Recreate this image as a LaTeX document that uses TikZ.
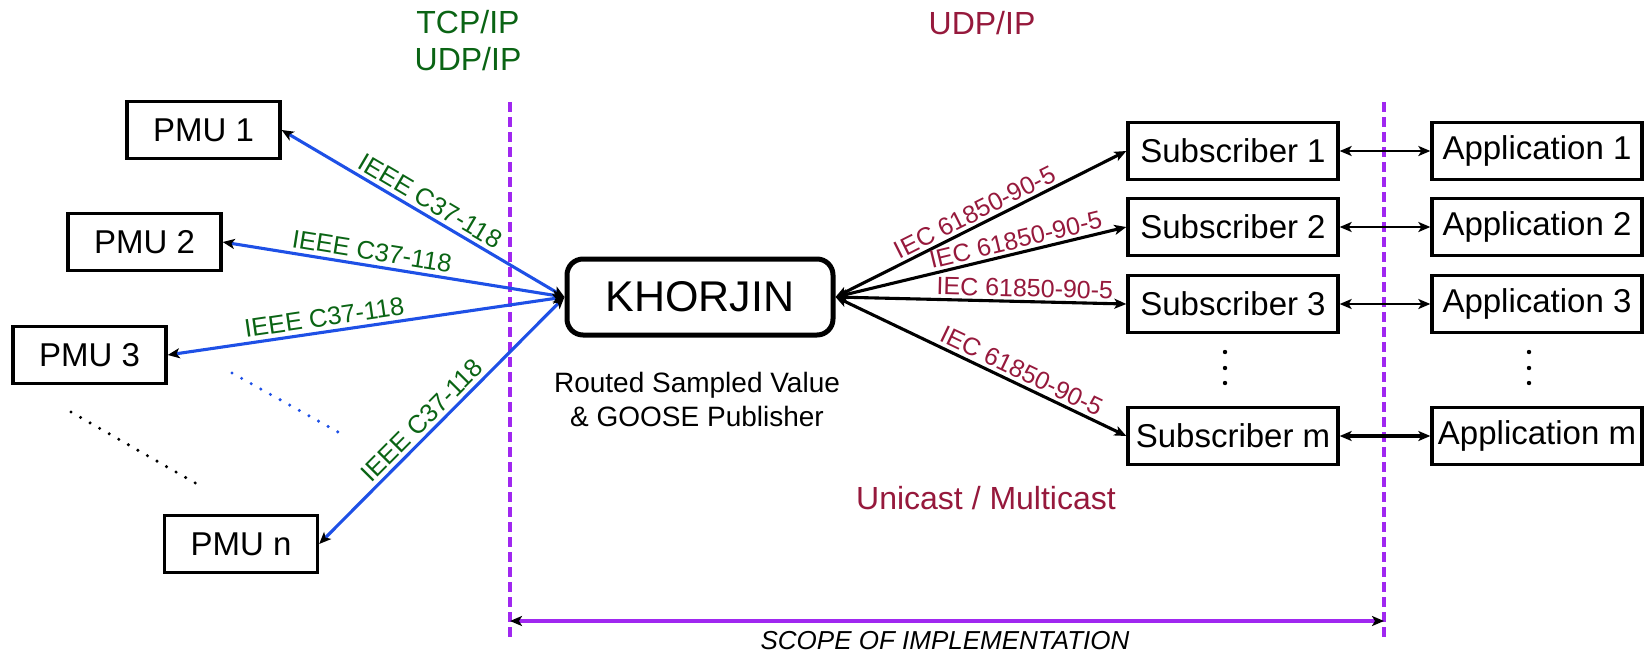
\documentclass[tikz,border=0pt]{standalone}
\usepackage{fontspec}
\setmainfont{Liberation Sans}
\usetikzlibrary{arrows.meta}

\definecolor{linkblue}{RGB}{30,80,230}
\definecolor{stdgreen}{RGB}{10,100,20}
\definecolor{stdred}{RGB}{150,25,60}
\definecolor{scopeviolet}{RGB}{160,40,240}

\begin{document}
\begin{tikzpicture}[x=1pt,y=-1pt,
  box/.style={draw, line width=3.3pt, minimum height=57pt, inner sep=0pt,
    font=\fontsize{33}{40}\selectfont},
  pmubox/.style={box, minimum width=153pt},
  sidebox/.style={box, minimum width=210pt},
  hub/.style={draw, line width=5pt, rounded corners=16pt, minimum width=266pt,
    minimum height=76pt, inner sep=0pt, font=\fontsize{43}{50}\selectfont},
  headtip/.tip={Stealth[black,length=12pt,width=10pt,inset=3pt]},
  pmulink/.style={draw=linkblue, line width=3.1pt, headtip-headtip},
  sublink/.style={draw=black, line width=3.1pt, headtip-headtip},
  applink/.style={draw=black, line width=2.8pt, headtip-headtip},
  pmulabel/.style={sloped, above, inner sep=4pt, text=stdgreen,
    font=\fontsize{25.5}{30}\selectfont},
  sublabel/.style={sloped, above, inner sep=3pt, text=stdred,
    font=\fontsize{25}{30}\selectfont},
  boundary/.style={draw=scopeviolet, line width=3.2pt, dash pattern=on 10pt off 5pt},
  sparsedots/.style={line width=3.4pt, line cap=round, dash pattern=on 0pt off 11pt}
]
\useasboundingbox (0,0) rectangle (1651,654);

% protocol headings
\node[text=stdgreen, align=center, font=\fontsize{32}{37}\selectfont] (leftproto) at (468,41) {TCP/IP\\UDP/IP};
\node[text=stdred, font=\fontsize{32}{37}\selectfont] (rightproto) at (982,23) {UDP/IP};

% scope boundaries
\coordinate (bl1) at (510,102);
\coordinate (bl2) at (510,640);
\coordinate (br1) at (1384,102);
\coordinate (br2) at (1384,640);
\draw[boundary] (bl1) -- (bl2);
\draw[boundary] (br1) -- (br2);
\coordinate (sl) at (510,621);
\coordinate (sr) at (1384,621);
\draw[draw=scopeviolet, line width=3.2pt, headtip-headtip] (sl) -- (sr);
\node[font=\fontsize{26}{30}\selectfont\itshape] (scope) at (945,641) {SCOPE OF IMPLEMENTATION};

% PMUs
\node[pmubox] (pmu1) at (203.5,130) {PMU 1};
\node[pmubox] (pmu2) at (144.5,242) {PMU 2};
\node[pmubox] (pmu3) at (89.5,355) {PMU 3};
\node[pmubox] (pmun) at (241,544) {PMU n};

% publisher
\node[hub] (kh) at (700,297) {KHORJIN};
\node[align=center, font=\fontsize{28}{34}\selectfont] (khnote) at (697,399) {Routed Sampled Value\\\& GOOSE Publisher};

% subscribers and applications
\node[sidebox] (sub1) at (1233,151) {Subscriber 1};
\node[sidebox] (sub2) at (1233,227) {Subscriber 2};
\node[sidebox] (sub3) at (1233,304) {Subscriber 3};
\node[sidebox] (subm) at (1233,436) {Subscriber m};
\node[sidebox] (app1) at (1537,151) {Application 1};
\node[sidebox] (app2) at (1537,227) {Application 2};
\node[sidebox] (app3) at (1537,304) {Application 3};
\node[sidebox] (appm) at (1537,436) {Application m};

\node[text=stdred, font=\fontsize{32}{37}\selectfont] (cast) at (986,498) {Unicast / Multicast};

% PMU links
\draw[pmulink] (kh.west) -- node[pmulabel, pos=0.5] {IEEE C37-118} (pmu1.east);
\draw[pmulink] (kh.west) -- node[pmulabel, pos=0.57] {IEEE C37-118} (pmu2.east);
\draw[pmulink] (kh.west) -- node[pmulabel, pos=0.6] {IEEE C37-118} (pmu3.east);
\draw[pmulink] (kh.west) -- node[pmulabel, pos=0.54] {IEEE C37-118} (pmun.east);

% subscriber links
\draw[sublink] (kh.east) -- node[sublabel, pos=0.5] {IEC 61850-90-5} (sub1.west);
\draw[sublink] (kh.east) -- node[sublabel, pos=0.63] {IEC 61850-90-5} (sub2.west);
\draw[sublink] (kh.east) -- node[sublabel, pos=0.65] {IEC 61850-90-5} (sub3.west);
\draw[sublink] (kh.east) -- node[sublabel, pos=0.62] {IEC 61850-90-5} (subm.west);

% subscriber-application exchange
\draw[applink] (sub1.east) -- (app1.west);
\draw[applink] (sub2.east) -- (app2.west);
\draw[applink] (sub3.east) -- (app3.west);
\draw[applink, line width=4pt] (subm.east) -- (appm.west);

% ellipses for further PMUs
\draw[sparsedots, linkblue] (232,373) -- (338,432);
\draw[sparsedots, black] (71,412) -- (204,488);

% ellipses for further subscribers and applications
\foreach \yy in {352,368,383} {
  \fill (1225,\yy) circle (2.2pt);
  \fill (1529,\yy) circle (2.2pt);
}
\end{tikzpicture}
\end{document}
